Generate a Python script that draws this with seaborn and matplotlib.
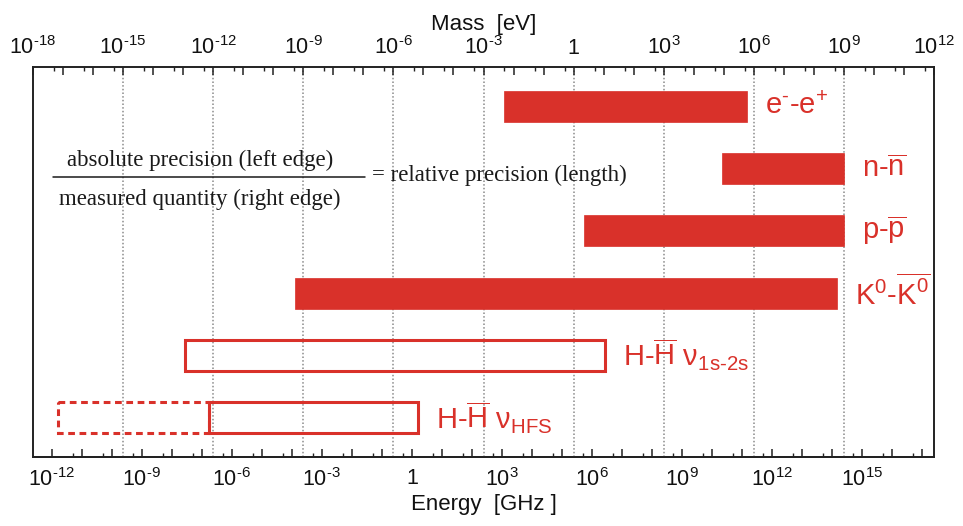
import numpy as np
import pandas as pd
import matplotlib
matplotlib.use("Agg")
import matplotlib.pyplot as plt
import seaborn as sns
from matplotlib.ticker import FixedLocator, FuncFormatter, NullFormatter
from matplotlib.lines import Line2D

# ---------------- data (values in eV) ----------------
filled_labels = [r"e$^{\text{-}}$-e$^{+}$", r"n-$\overline{\mathrm{n}}$",
                 r"p-$\overline{\mathrm{p}}$", r"K$^{0}$-$\overline{\mathrm{K}^{0}}$"]
filled_rows = [0, 1, 2, 3]
filled_abs_precision = [4.7e-3, 9.0e4, 2.2, 5.4e-10]     # left edge
filled_measured = [6.0e5, 1.0e9, 1.0e9, 5.8e8]           # right edge

open_labels = [r"H-$\overline{\mathrm{H}}$ ν$_{\mathrm{1s\text{-}2s}}$",
               r"H-$\overline{\mathrm{H}}$ ν$_{\mathrm{HFS}}$"]
open_rows = [4, 5]
open_abs_precision = [1.12e-13, 7.0e-13]
open_measured = [11.0, 6.8e-6]

dashed_row = [5]
dashed_abs_precision = [6.6e-18]
dashed_measured = [7.0e-13]

mass_exponents = list(range(-18, 13))          # top axis decades (eV)
energy_exponents = list(range(-12, 18))        # bottom axis decades (GHz)
GHZ_PER_EV = 2.418e5

numerator_text = "absolute precision (left edge)"
denominator_text = "measured quantity (right edge)"
result_text = "= relative precision (length)"

df_filled = pd.DataFrame({"label": filled_labels, "row": filled_rows,
                          "left": filled_abs_precision, "right": filled_measured})
df_open = pd.DataFrame({"label": open_labels, "row": open_rows,
                        "left": open_abs_precision, "right": open_measured})

# ---------------- style ----------------
sns.set_theme(style="white")
plt.rcParams["font.family"] = ["Liberation Sans", "DejaVu Sans"]
plt.rcParams["mathtext.fontset"] = "custom"
plt.rcParams["mathtext.rm"] = "Liberation Sans"
plt.rcParams["mathtext.it"] = "Liberation Sans:italic"
plt.rcParams["mathtext.bf"] = "Liberation Sans:bold"
plt.rcParams["mathtext.sf"] = "Liberation Sans"
plt.rcParams["text.color"] = "#111111"
plt.rcParams["xtick.color"] = "#111111"
plt.rcParams["axes.labelcolor"] = "#111111"

RED = "#d9312a"
W, H = 963, 526
fig = plt.figure(figsize=(W / 100, H / 100), dpi=100)
ax = fig.add_axes([33 / W, 1 - 457 / H, (934 - 33) / W, (457 - 67) / H])
ax.set_xscale("log")
ax.set_xlim(10.0 ** mass_exponents[0], 10.0 ** mass_exponents[-1])
ax.set_ylim(5.63, -0.63)

# grid every 3 decades (inner ones)
for e in mass_exponents[1:-1]:
    if e % 3 == 0:
        ax.axvline(10.0 ** e, color="#8a8a8a", lw=1.1, ls=(0, (1, 1.4)), zorder=0.5)

bar_h = 0.5
ax.barh(df_filled["row"], df_filled["right"] - df_filled["left"], left=df_filled["left"],
        height=bar_h, color=RED, edgecolor=RED, lw=0.5, zorder=2)
ax.barh(dashed_row, np.array(dashed_measured) - np.array(dashed_abs_precision),
        left=dashed_abs_precision, height=bar_h, fill=False, edgecolor=RED,
        lw=2.2, ls=(0, (2.2, 1.5)), zorder=2)
ax.barh(df_open["row"], df_open["right"] - df_open["left"], left=df_open["left"],
        height=bar_h, fill=False, edgecolor=RED, lw=2.2, zorder=3)

for d in (df_filled, df_open):
    for _, r in d.iterrows():
        ax.annotate(r["label"], xy=(r["right"], r["row"]), xytext=(13, 0),
                    textcoords="offset points", ha="left", va="center",
                    color=RED, fontsize=21)

# ---------------- axes / ticks ----------------
def fmt(v, pos):
    e = int(round(np.log10(v)))
    if e % 3:
        return ""
    if e == 0:
        return "1"
    if e < 0:
        return r"$10^{\text{-}%d}$" % (-e)
    return r"$10^{%d}$" % e

ax.xaxis.tick_top()
ax.xaxis.set_label_position("top")
ax.xaxis.set_major_locator(FixedLocator([10.0 ** e for e in mass_exponents]))
ax.xaxis.set_minor_locator(FixedLocator([5 * 10.0 ** e for e in mass_exponents[:-1]]))
ax.xaxis.set_major_formatter(FuncFormatter(fmt))
ax.xaxis.set_minor_formatter(NullFormatter())
ax.tick_params(axis="x", which="major", direction="in", length=6, width=1.1,
               color="#222222", labelsize=15.5, pad=6, top=True, bottom=False,
               labeltop=True, labelbottom=False)
ax.tick_params(axis="x", which="minor", direction="in", length=3.2, width=1.0,
               color="#222222", top=True, bottom=False)
ax.set_yticks([])
ax.set_xlabel("Mass  [eV]", fontsize=16, labelpad=4)

sec = ax.secondary_xaxis("bottom", functions=(lambda x: x * GHZ_PER_EV,
                                              lambda x: x / GHZ_PER_EV))
sec.xaxis.set_major_locator(FixedLocator([10.0 ** e for e in energy_exponents]))
sec.xaxis.set_minor_locator(FixedLocator([5 * 10.0 ** e for e in energy_exponents]))
sec.xaxis.set_major_formatter(FuncFormatter(fmt))
sec.xaxis.set_minor_formatter(NullFormatter())
sec.tick_params(axis="x", which="major", direction="in", length=6, width=1.1,
                color="#222222", labelsize=15.5, pad=8)
sec.tick_params(axis="x", which="minor", direction="in", length=3.2, width=1.0,
                color="#222222")
sec.set_xlabel("Energy  [GHz ]", fontsize=16, labelpad=2)

for s in ax.spines.values():
    s.set_color("#222222")
    s.set_linewidth(1.4)
    s.set_visible(True)
for s in sec.spines.values():
    s.set_color("#222222")
    s.set_linewidth(1.4)

# ---------------- relative-precision formula ----------------
serif = ["Liberation Serif", "DejaVu Serif"]
fig.text(200 / W, 1 - 160 / H, numerator_text, family=serif, fontsize=16.5,
         ha="center", va="center", color="#1a1a1a")
fig.text(200 / W, 1 - 199 / H, denominator_text, family=serif, fontsize=16.5,
         ha="center", va="center", color="#1a1a1a")
fig.add_artist(Line2D([53 / W, 365 / W], [1 - 177 / H, 1 - 177 / H],
                      transform=fig.transFigure, color="#1a1a1a", lw=1.1))
fig.text(372 / W, 1 - 175 / H, result_text, family=serif, fontsize=16.5,
         ha="left", va="center", color="#1a1a1a")

fig.savefig("out.png", dpi=100)
